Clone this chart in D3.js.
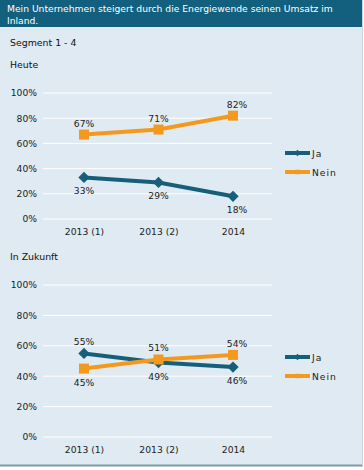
<!DOCTYPE html>
<html>
<head>
<meta charset="utf-8">
<script src="https://cdn.jsdelivr.net/npm/d3@7"></script>
<style>
  body { margin: 0; background: #fff; }
  text { font-family: "DejaVu Sans", Verdana, sans-serif; }
</style>
</head>
<body>
<svg id="chart"></svg>
<script>
// chart values
const categories = ['2013 (1)', '2013 (2)', '2014'];
const heuteJa = [33, 29, 18];
const heuteNein = [67, 71, 82];
const zukunftJa = [55, 49, 46];
const zukunftNein = [45, 51, 54];
const yTicks = [0, 20, 40, 60, 80, 100];
const seriesNames = ['Ja', 'Nein'];

const width = 364, height = 470;
const colJa = '#165f7b', colNein = '#f39a1e';

const svg = d3.select('#chart')
    .attr('width', width)
    .attr('height', height);

// panel background + border
svg.append('rect').attr('x', 0).attr('y', 0).attr('width', 362).attr('height', 465).attr('fill', '#dfeaf2');
svg.append('line').attr('x1', 0).attr('x2', 363).attr('y1', 465.5).attr('y2', 465.5).attr('stroke', '#7f9ba5').attr('stroke-width', 2);
svg.append('line').attr('x1', 362.5).attr('x2', 362.5).attr('y1', 0).attr('y2', 466).attr('stroke', '#c9d6de').attr('stroke-width', 1);

// title bar
svg.append('rect').attr('x', 0).attr('y', 0).attr('width', 362).attr('height', 27).attr('fill', '#13607e');
const title = svg.append('text').attr('fill', '#fff').attr('font-size', 9.2).attr('x', 7);
title.append('tspan').attr('x', 7).attr('y', 12).text('Mein Unternehmen steigert durch die Energiewende seinen Umsatz im');
title.append('tspan').attr('x', 7).attr('y', 24).text('Inland.');

svg.append('text').attr('x', 10).attr('y', 46).attr('font-size', 9.4).attr('fill', '#111').text('Segment 1 - 4');
svg.append('text').attr('x', 10).attr('y', 68).attr('font-size', 9.4).attr('fill', '#111').text('Heute');
svg.append('text').attr('x', 10).attr('y', 260).attr('font-size', 9.4).attr('fill', '#111').text('In Zukunft');

const x = d3.scalePoint().domain(categories).range([84, 233]);

function drawPanel(ja, nein, yTop, yBottom, legendY, labelPos) {
    const y = d3.scaleLinear().domain([0, 100]).range([yBottom, yTop]);
    const g = svg.append('g');

    // gridlines
    g.selectAll('.grid').data(yTicks).join('line')
        .attr('x1', 43).attr('x2', 272)
        .attr('y1', d => y(d)).attr('y2', d => y(d))
        .attr('stroke', '#fff').attr('stroke-width', 1);

    // y axis
    const yAxis = d3.axisLeft(y).tickValues(yTicks).tickSize(0).tickPadding(0).tickFormat(d => d + '%');
    const ya = g.append('g').attr('transform', 'translate(37,0)').call(yAxis);
    ya.select('.domain').remove();
    ya.selectAll('text').attr('font-size', 9.2).attr('fill', '#222').attr('font-family', '"DejaVu Sans", sans-serif');

    // x axis
    const xAxis = d3.axisBottom(x).tickSize(0).tickPadding(0);
    const xa = g.append('g').attr('transform', `translate(0,${yBottom + 9})`).call(xAxis);
    xa.select('.domain').remove();
    xa.selectAll('text').attr('font-size', 9.2).attr('fill', '#222').attr('font-family', '"DejaVu Sans", sans-serif');

    const line = d3.line().x((d, i) => x(categories[i])).y(d => y(d));

    const series = [
        { name: 'Ja', values: ja, color: colJa, rot: 45, size: 64, pos: labelPos.ja },
        { name: 'Nein', values: nein, color: colNein, rot: 0, size: 100, pos: labelPos.nein }
    ];

    series.forEach(s => {
        g.append('path').datum(s.values).attr('d', line)
            .attr('fill', 'none').attr('stroke', s.color).attr('stroke-width', 4);
        g.selectAll(null).data(s.values).join('path')
            .attr('d', d3.symbol().type(d3.symbolSquare).size(s.size))
            .attr('transform', (d, i) => `translate(${x(categories[i])},${y(d)}) rotate(${s.rot})`)
            .attr('fill', s.color);
        g.selectAll(null).data(s.values).join('text')
            .attr('x', (d, i) => x(categories[i]) + (i === 2 ? 4 : 0))
            .attr('y', (d, i) => y(d) + (s.pos[i] === 'above' ? -8 : 17))
            .attr('text-anchor', 'middle').attr('font-size', 9.2).attr('fill', '#222')
            .text(d => d + '%');
    });

    // legend
    const lg = g.append('g').attr('transform', `translate(285,${legendY})`);
    series.forEach((s, i) => {
        const row = lg.append('g').attr('transform', `translate(0,${i * 19})`);
        row.append('line').attr('x1', 0).attr('x2', 25).attr('y1', 0).attr('y2', 0)
            .attr('stroke', s.color).attr('stroke-width', 4);
        row.append('path')
            .attr('d', d3.symbol().type(d3.symbolSquare).size(20))
            .attr('transform', `translate(12.5,0) rotate(${s.rot})`).attr('fill', s.color);
        row.append('text').attr('x', 27).attr('y', 3.5).attr('font-size', 9.2).attr('fill', '#222')
            .attr('letter-spacing', 1).text(seriesNames[i]);
    });
}

drawPanel(heuteJa, heuteNein, 93, 219, 153,
    { ja: ['below', 'below', 'below'], nein: ['above', 'above', 'above'] });
drawPanel(zukunftJa, zukunftNein, 285, 437, 357,
    { ja: ['above', 'below', 'below'], nein: ['below', 'above', 'above'] });
</script>
</body>
</html>
